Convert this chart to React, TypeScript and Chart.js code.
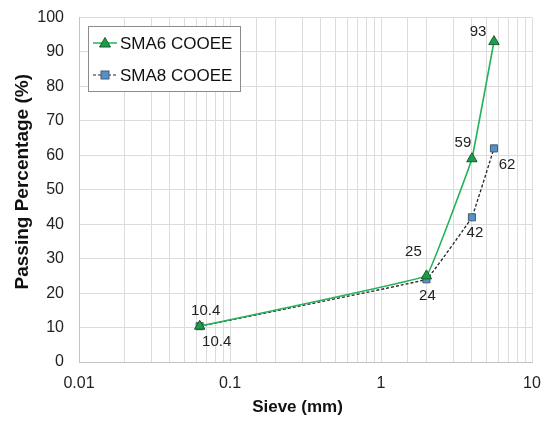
import React, { useEffect, useRef } from 'react';
import { Chart, registerables } from 'chart.js';
Chart.register(...registerables);

const sieveSizes = [0.063, 2, 4, 5.6];
const sma6Values = [10.4, 25, 59, 93];
const sma8Values = [10.4, 24, 42, 62];
const seriesNames = ['SMA6 COOEE', 'SMA8 COOEE'];
const xTickLabels = ['0.01', '0.1', '1', '10'];
const xTitle = 'Sieve (mm)';
const yTitle = 'Passing Percentage (%)';

const sma6LabelOffsets = [[6, -15], [-13, -24], [-9, -16], [-16, -10]];
const sma8LabelOffsets = [[17, 16], [1, 17], [3, 16], [13, 16]];

const FONT = '"Liberation Sans", Arial, sans-serif';
const GREEN_LINE = '#22b35a';
const GREEN_FILL = '#1a9e48';
const GREEN_EDGE = '#1c5a30';
const BLUE_FILL = '#4f93cc';
const BLUE_EDGE = '#4d5966';

const labelPlugin = {
  id: 'pointLabels',
  afterDatasetsDraw(chart: any) {
    const ctx = chart.ctx;
    ctx.save();
    ctx.font = `15px ${FONT}`;
    ctx.fillStyle = '#222';
    ctx.textAlign = 'center';
    ctx.textBaseline = 'middle';
    const offsets = [sma6LabelOffsets, sma8LabelOffsets];
    chart.data.datasets.forEach((ds: any, di: number) => {
      const meta = chart.getDatasetMeta(di);
      meta.data.forEach((pt: any, i: number) => {
        const v = ds.data[i].y;
        const [dx, dy] = offsets[di][i];
        ctx.fillText(String(v), pt.x + dx, pt.y + dy);
      });
    });
    ctx.restore();
  },
};

const titlePlugin = {
  id: 'axisTitles',
  afterDraw(chart: any) {
    const ctx = chart.ctx;
    const a = chart.chartArea;
    ctx.save();
    ctx.fillStyle = '#111';
    ctx.textAlign = 'center';
    ctx.textBaseline = 'middle';
    ctx.font = `bold 17px ${FONT}`;
    ctx.fillText(xTitle, (a.left + a.right) / 2 - 8, a.bottom + 45);
    ctx.translate(23, (a.top + a.bottom) / 2 - 8);
    ctx.rotate(-Math.PI / 2);
    ctx.font = `bold 19px ${FONT}`;
    ctx.fillText(yTitle, 0, 0);
    ctx.restore();
  },
};

const legendPlugin = {
  id: 'boxLegend',
  afterDraw(chart: any) {
    const ctx = chart.ctx;
    const a = chart.chartArea;
    const x0 = a.left + 9;
    const y0 = a.top + 8.5;
    const w = 152;
    const h = 65;
    ctx.save();
    ctx.fillStyle = '#fff';
    ctx.fillRect(x0, y0, w, h);
    ctx.strokeStyle = '#8c8c8c';
    ctx.lineWidth = 1;
    ctx.strokeRect(Math.round(x0) + 0.5, Math.round(y0) + 0.5, w, h);
    const rows = [y0 + 17, y0 + 49];
    ctx.strokeStyle = GREEN_LINE;
    ctx.lineWidth = 1.5;
    ctx.setLineDash([]);
    ctx.beginPath();
    ctx.moveTo(x0 + 5, rows[0]);
    ctx.lineTo(x0 + 29, rows[0]);
    ctx.stroke();
    ctx.fillStyle = GREEN_FILL;
    ctx.strokeStyle = GREEN_EDGE;
    ctx.lineWidth = 1;
    ctx.beginPath();
    const cx = x0 + 17;
    ctx.moveTo(cx, rows[0] - 5.5);
    ctx.lineTo(cx + 5.5, rows[0] + 4);
    ctx.lineTo(cx - 5.5, rows[0] + 4);
    ctx.closePath();
    ctx.fill();
    ctx.stroke();
    ctx.strokeStyle = '#222';
    ctx.lineWidth = 1.2;
    ctx.setLineDash([3, 2]);
    ctx.beginPath();
    ctx.moveTo(x0 + 5, rows[1]);
    ctx.lineTo(x0 + 29, rows[1]);
    ctx.stroke();
    ctx.setLineDash([]);
    ctx.fillStyle = BLUE_FILL;
    ctx.strokeStyle = BLUE_EDGE;
    ctx.lineWidth = 1;
    ctx.fillRect(cx - 4, rows[1] - 4, 8, 8);
    ctx.strokeRect(cx - 4, rows[1] - 4, 8, 8);
    ctx.fillStyle = '#111';
    ctx.font = `17px ${FONT}`;
    ctx.textAlign = 'left';
    ctx.textBaseline = 'middle';
    ctx.fillText(seriesNames[0], x0 + 32, rows[0] + 1);
    ctx.fillText(seriesNames[1], x0 + 32, rows[1] + 1);
    ctx.restore();
  },
};

export default function App() {
  const ref = useRef<HTMLCanvasElement | null>(null);
  useEffect(() => {
    document.body.style.margin = '0';
    const canvas = ref.current;
    if (!canvas) return;
    const chart = new Chart(canvas, {
      type: 'line',
      data: {
        datasets: [
          {
            label: seriesNames[0],
            data: sieveSizes.map((x, i) => ({ x, y: sma6Values[i] })),
            borderColor: GREEN_LINE,
            borderWidth: 1.6,
            backgroundColor: GREEN_FILL,
            pointBackgroundColor: GREEN_FILL,
            pointBorderColor: GREEN_EDGE,
            pointBorderWidth: 1,
            pointStyle: 'triangle',
            pointRadius: 6,
            tension: 0.04,
            order: 1,
          },
          {
            label: seriesNames[1],
            data: sieveSizes.map((x, i) => ({ x, y: sma8Values[i] })),
            borderColor: '#222',
            borderWidth: 1.3,
            borderDash: [3, 2],
            backgroundColor: BLUE_FILL,
            pointBackgroundColor: BLUE_FILL,
            pointBorderColor: BLUE_EDGE,
            pointBorderWidth: 1,
            pointStyle: 'rect',
            pointRadius: 5,
            tension: 0.04,
            order: 2,
          },
        ],
      },
      options: {
        animation: false,
        responsive: false,
        maintainAspectRatio: false,
        layout: { padding: { top: 17.5, right: 12, left: 0, bottom: 0 } },
        plugins: { legend: { display: false }, tooltip: { enabled: false } },
        scales: {
          x: {
            type: 'logarithmic',
            min: 0.01,
            max: 10,
            border: { color: '#c4c4c4' },
            grid: { color: '#dcdcdc', drawTicks: false },
            ticks: {
              padding: 12,
              color: '#222',
              font: { family: FONT, size: 16 },
              autoSkip: false,
              maxRotation: 0,
              callback: (v: any) => {
                const lg = Math.log10(Number(v));
                if (Math.abs(lg - Math.round(lg)) < 1e-6) {
                  const idx = Math.round(lg) + 2;
                  return xTickLabels[idx] ?? '';
                }
                return '';
              },
            },
            afterFit: (s: any) => {
              s.height = 59;
              s.paddingLeft = 0;
              s.paddingRight = 0;
            },
          },
          y: {
            min: 0,
            max: 100,
            border: { color: '#c4c4c4' },
            grid: { color: '#dcdcdc', drawTicks: false },
            ticks: {
              stepSize: 10,
              padding: 15,
              color: '#222',
              font: { family: FONT, size: 16 },
            },
            afterFit: (s: any) => {
              s.width = 79;
              s.paddingTop = 0;
              s.paddingBottom = 0;
            },
          },
        },
      },
      plugins: [labelPlugin, titlePlugin, legendPlugin],
    } as any);
    return () => chart.destroy();
  }, []);
  return (
    <div style={{ width: 544, height: 421 }}>
      <canvas ref={ref} width={544} height={421} style={{ display: 'block' }} />
    </div>
  );
}
